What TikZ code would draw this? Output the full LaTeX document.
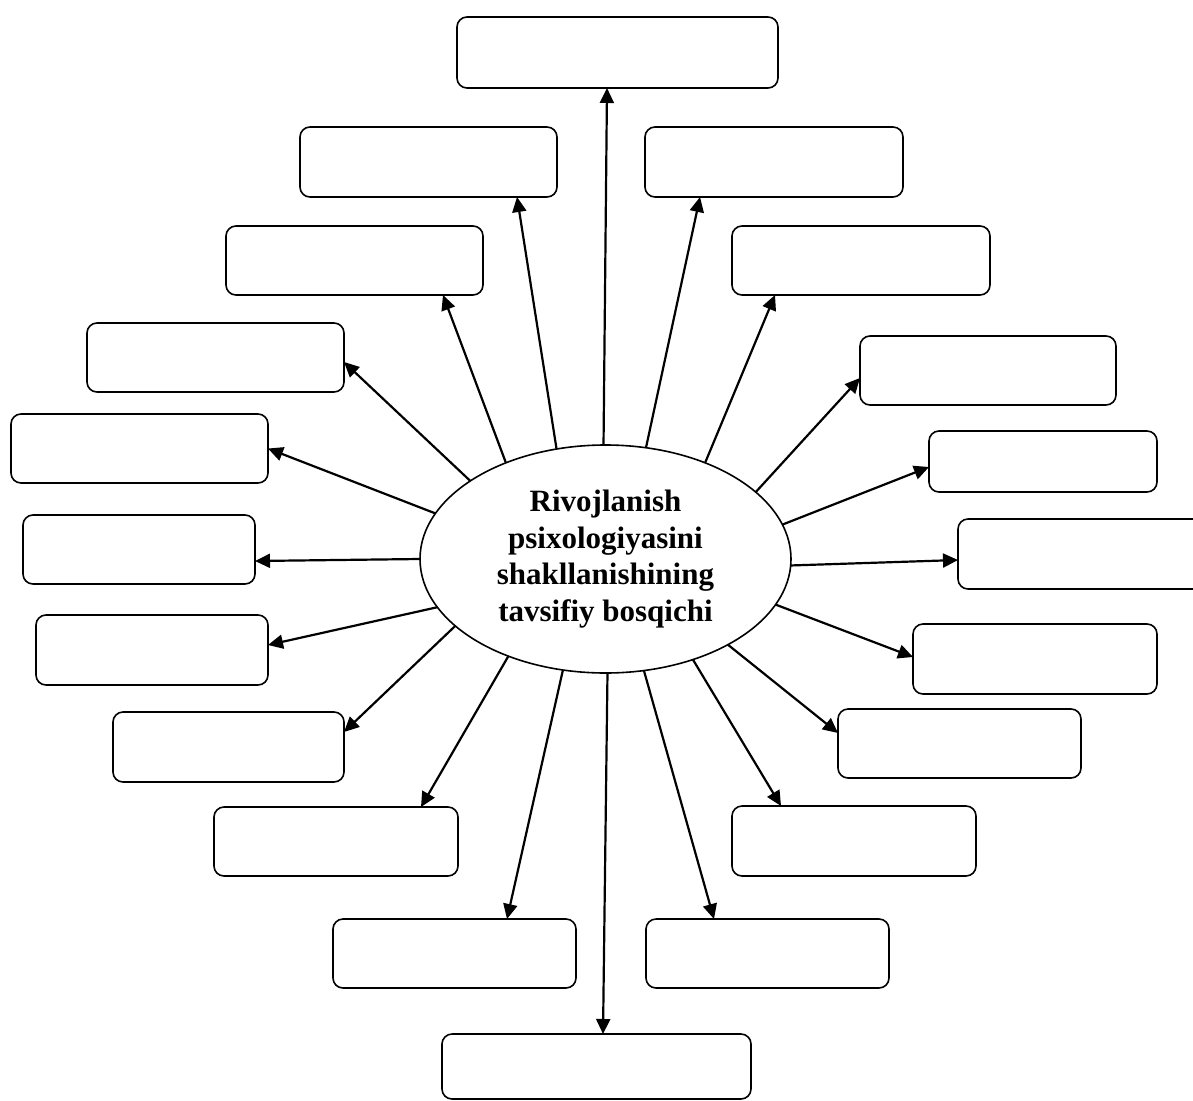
\documentclass[tikz,border=0pt]{standalone}
\usepackage{fontspec}
\setmainfont{Liberation Serif}
\usetikzlibrary{shapes.geometric,arrows.meta}
\tikzset{
  box/.style={draw, rounded corners=10pt, line width=1.6pt, inner sep=0pt, outer sep=0pt},
  hub/.style={draw, ellipse, line width=1.6pt, inner sep=0pt, outer sep=0pt,
    minimum width=371pt, minimum height=228pt, align=center,
    font=\fontsize{31}{36.5}\selectfont\bfseries},
  arr/.style={line width=2.2pt, -{Triangle[length=15pt,width=14pt]}},
}
\begin{document}
\begin{tikzpicture}[x=1pt,y=-1pt]
\useasboundingbox (0,0) rectangle (1193,1100);
\clip (0,0) rectangle (1193,1100);
\node[hub] (e) at (605.5,559) {Rivojlanish\\psixologiyasini\\shakllanishining\\tavsifiy bosqichi};
\node[box, minimum width=321pt, minimum height=71pt] (b1) at (617.5,52.5) {};
\node[box, minimum width=257pt, minimum height=70pt] (b2) at (428.5,162) {};
\node[box, minimum width=258pt, minimum height=70pt] (b3) at (774,162) {};
\node[box, minimum width=257pt, minimum height=69pt] (b4) at (354.5,260.5) {};
\node[box, minimum width=258pt, minimum height=69pt] (b5) at (861,260.5) {};
\node[box, minimum width=257pt, minimum height=69pt] (b6) at (215.5,357.5) {};
\node[box, minimum width=256pt, minimum height=69pt] (b7) at (988,370.5) {};
\node[box, minimum width=257pt, minimum height=69pt] (b8) at (139.5,448.5) {};
\node[box, minimum width=228pt, minimum height=61pt] (b9) at (1043,461.5) {};
\node[box, minimum width=232pt, minimum height=69pt] (b10) at (139,549.5) {};
\node[box, minimum width=272pt, minimum height=70pt] (b11) at (1094,554) {};
\node[box, minimum width=232pt, minimum height=70pt] (b12) at (152,650) {};
\node[box, minimum width=244pt, minimum height=70pt] (b13) at (1035,659) {};
\node[box, minimum width=231pt, minimum height=70pt] (b14) at (228.5,747) {};
\node[box, minimum width=243pt, minimum height=69pt] (b15) at (959.5,743.5) {};
\node[box, minimum width=244pt, minimum height=69pt] (b16) at (336,841.5) {};
\node[box, minimum width=244pt, minimum height=70pt] (b17) at (854,841) {};
\node[box, minimum width=243pt, minimum height=69pt] (b18) at (454.5,953.5) {};
\node[box, minimum width=243pt, minimum height=69pt] (b19) at (767.5,953.5) {};
\node[box, minimum width=309pt, minimum height=65pt] (b20) at (596.5,1066.5) {};
\draw[arr] (e.91.3) -- ([xshift=-10.5pt]b1.south);
\draw[arr] (e.114.7) -- ([xshift=88.5pt]b2.south);
\draw[arr] (e.70.4) -- ([xshift=-74pt]b3.south);
\draw[arr] (e.136.9) -- ([xshift=88.5pt]b4.south);
\draw[arr] (e.44.8) -- ([xshift=-86pt]b5.south);
\draw[arr] (e.150) -- ([yshift=-4.5pt]b6.east);
\draw[arr] (e.24.9) -- ([yshift=-7.5pt]b7.west);
\draw[arr] (e.165) -- (b8.east);
\draw[arr] (e.11.4) -- ([yshift=-5.5pt]b9.west);
\draw[arr] (e.180.3) -- ([yshift=-11.5pt]b10.east);
\draw[arr] (e.-2.1) -- ([yshift=-6pt]b11.west);
\draw[arr] (e.196.3) -- ([yshift=5pt]b12.east);
\draw[arr] (e.-15.9) -- ([yshift=2pt]b13.west);
\draw[arr] (e.204) -- ([yshift=15pt]b14.east);
\draw[arr] (e.-35.9) -- ([yshift=10.5pt]b15.west);
\draw[arr] (e.225.7) -- ([xshift=85pt]b16.north);
\draw[arr] (e.-49.9) -- ([xshift=-73pt]b17.north);
\draw[arr] (e.249.7) -- ([xshift=52.5pt]b18.north);
\draw[arr] (e.-71.9) -- ([xshift=-53.5pt]b19.north);
\draw[arr] (e.-89.3) -- ([xshift=6.5pt]b20.north);
\end{tikzpicture}
\end{document}
